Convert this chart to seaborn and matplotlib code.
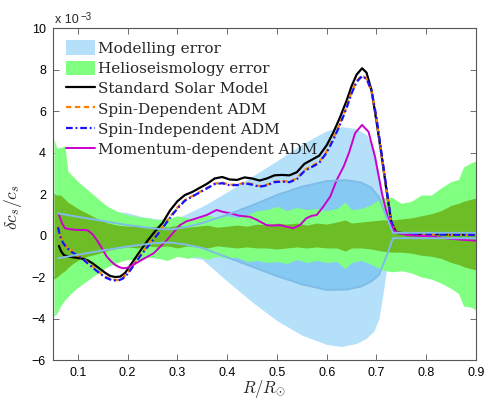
import numpy as np
import pandas as pd
import matplotlib
matplotlib.use("Agg")
import matplotlib.pyplot as plt
import seaborn as sns
from matplotlib.patches import Patch
from matplotlib.lines import Line2D

# Sound-speed profiles, delta c_s / c_s in units of 1e-3
x_ssm = [0.062, 0.066, 0.072, 0.08, 0.09, 0.1, 0.11, 0.12, 0.13, 0.144,
         0.155, 0.165, 0.175, 0.185, 0.195, 0.205, 0.215, 0.225, 0.24, 0.255,
         0.27, 0.285, 0.3, 0.315, 0.33, 0.345, 0.36, 0.375, 0.39, 0.405,
         0.42, 0.435, 0.45, 0.465, 0.48, 0.495, 0.51, 0.525, 0.54, 0.555,
         0.57, 0.585, 0.6, 0.613, 0.626, 0.64, 0.65, 0.66, 0.671, 0.68,
         0.69, 0.7, 0.71, 0.72, 0.73, 0.74, 0.76, 0.8, 0.85, 0.9]
dc_ssm = [-0.5, -0.75, -0.95, -1.0, -1.05, -1.08, -1.12, -1.2, -1.35, -1.6,
          -1.8, -1.95, -2.0, -1.98, -1.8, -1.45, -1.1, -0.75, -0.25, 0.2,
          0.6, 1.2, 1.65, 1.95, 2.1, 2.3, 2.5, 2.75, 2.82, 2.7,
          2.68, 2.8, 2.75, 2.65, 2.75, 2.9, 2.92, 2.9, 3.05, 3.45,
          3.65, 3.85, 4.35, 4.95, 5.65, 6.5, 7.2, 7.75, 8.06, 7.85,
          7.0, 5.5, 3.9, 2.2, 0.6, 0.15, 0.1, 0.08, 0.06, 0.05]

x_adm = [0.06, 0.064, 0.07, 0.078, 0.088, 0.1, 0.112, 0.125, 0.14, 0.155,
         0.168, 0.18, 0.19, 0.2, 0.212, 0.225, 0.24, 0.255, 0.27, 0.285,
         0.3, 0.315, 0.33, 0.345, 0.36, 0.375, 0.39, 0.405, 0.42, 0.435,
         0.45, 0.465, 0.48, 0.495, 0.51, 0.525, 0.54, 0.555, 0.57, 0.585,
         0.6, 0.613, 0.626, 0.64, 0.65, 0.66, 0.671, 0.68, 0.69, 0.7,
         0.71, 0.72, 0.73, 0.74, 0.76, 0.8, 0.85, 0.9]
dc_spin_dep = [0.45, 0.05, -0.3, -0.55, -0.75, -0.95, -1.15, -1.4, -1.7, -1.98,
               -2.12, -2.15, -2.05, -1.8, -1.4, -0.95, -0.5, -0.05, 0.4, 0.9,
               1.35, 1.7, 1.9, 2.1, 2.3, 2.5, 2.55, 2.45, 2.45, 2.55,
               2.48, 2.38, 2.45, 2.6, 2.62, 2.6, 2.75, 3.15, 3.35, 3.55,
               4.05, 4.65, 5.35, 6.2, 6.9, 7.45, 7.72, 7.55, 6.95, 5.6,
               3.9, 2.2, 0.6, 0.12, 0.08, 0.06, 0.04, 0.02]
dc_spin_ind = [0.4, 0.0, -0.35, -0.6, -0.8, -0.98, -1.18, -1.45, -1.75, -2.02,
               -2.15, -2.18, -2.08, -1.85, -1.45, -1.0, -0.55, -0.1, 0.35, 0.85,
               1.3, 1.68, 1.88, 2.08, 2.28, 2.48, 2.52, 2.42, 2.43, 2.52,
               2.45, 2.35, 2.42, 2.57, 2.6, 2.57, 2.72, 3.1, 3.3, 3.5,
               4.0, 4.6, 5.3, 6.15, 6.85, 7.4, 7.68, 7.55, 7.0, 5.7,
               4.0, 2.3, 0.65, 0.12, 0.08, 0.06, 0.04, 0.02]

x_mom = [0.062, 0.068, 0.074, 0.085, 0.098, 0.11, 0.12, 0.13, 0.138, 0.148,
         0.158, 0.167, 0.175, 0.183, 0.191, 0.2, 0.211, 0.23, 0.252, 0.265,
         0.279, 0.292, 0.305, 0.318, 0.332, 0.345, 0.359, 0.372, 0.379, 0.39,
         0.406, 0.425, 0.446, 0.46, 0.479, 0.493, 0.506, 0.52, 0.533, 0.546,
         0.559, 0.57, 0.58, 0.593, 0.607, 0.62, 0.634, 0.645, 0.657, 0.671,
         0.684, 0.697, 0.711, 0.724, 0.737, 0.761, 0.79, 0.808, 0.841, 0.87,
         0.9]
dc_mom = [1.0, 0.6, 0.35, 0.3, 0.27, 0.27, 0.25, 0.05, -0.22, -0.6,
          -1.02, -1.25, -1.42, -1.52, -1.58, -1.55, -1.42, -1.15, -0.86, -0.55,
          -0.22, 0.15, 0.5, 0.68, 0.78, 0.88, 0.99, 1.15, 1.23, 1.15,
          1.07, 0.95, 0.9, 0.75, 0.5, 0.48, 0.5, 0.42, 0.35, 0.5,
          0.83, 0.95, 0.99, 1.39, 1.87, 2.67, 3.32, 4.0, 4.93, 5.33,
          5.0, 3.8, 2.03, 0.75, 0.18, 0.02, -0.02, -0.04, -0.14, -0.2,
          -0.25]

# Modelling error: wide envelope and inner envelope
x_model = [0.055, 0.1, 0.15, 0.18, 0.2, 0.23, 0.26, 0.3, 0.35, 0.4, 0.45, 0.5, 0.55,
           0.6, 0.63, 0.66, 0.68, 0.695, 0.705, 0.712, 0.718, 0.725, 0.735, 0.9]
model_hi = [1.6, 1.4, 1.2, 1.15, 1.1, 0.9, 0.8, 0.85, 1.4, 2.1, 2.85, 3.6, 4.4,
            5.05, 5.25, 5.15, 4.85, 4.2, 3.0, 2.0, 1.3, 0.6, 0.13, 0.13]
model_lo = [-1.6, -1.4, -1.2, -1.1, -1.05, -0.95, -0.95, -0.95, -1.15, -2.2, -3.2, -4.1, -4.8,
            -5.25, -5.35, -5.2, -4.95, -4.6, -4.0, -3.0, -2.0, -1.0, -0.13, -0.13]

x_inner = [0.06, 0.1, 0.15, 0.2, 0.25, 0.27, 0.29, 0.32, 0.35, 0.4, 0.45,
           0.5, 0.55, 0.6, 0.64, 0.67, 0.69, 0.705, 0.72, 0.733, 0.9]
inner_hi = [1.07, 0.9, 0.7, 0.5, 0.35, 0.3, 0.3, 0.42, 0.6, 1.0, 1.45,
            1.95, 2.35, 2.62, 2.67, 2.55, 2.3, 1.85, 0.9, 0.13, 0.13]
inner_lo = [-1.1, -0.92, -0.72, -0.53, -0.38, -0.34, -0.35, -0.45, -0.6, -1.05, -1.5,
            -1.95, -2.35, -2.62, -2.6, -2.45, -2.2, -1.9, -1.0, -0.13, -0.13]

# Helioseismology error: 2-sigma and 1-sigma envelopes
x_helio = [0.052, 0.058, 0.065, 0.074, 0.08, 0.09, 0.1, 0.12, 0.144, 0.16,
           0.18, 0.2, 0.22, 0.24, 0.26, 0.28, 0.3, 0.32, 0.34, 0.36,
           0.38, 0.4, 0.42, 0.44, 0.46, 0.48, 0.5, 0.52, 0.54, 0.56,
           0.58, 0.6, 0.62, 0.637, 0.65, 0.67, 0.69, 0.71, 0.73, 0.75,
           0.77, 0.79, 0.81, 0.83, 0.85, 0.865, 0.875, 0.89, 0.9]
helio2_hi = [4.65, 4.2, 4.25, 4.3, 3.1, 2.85, 2.6, 2.2, 1.7, 1.4,
             1.15, 1.0, 0.9, 0.85, 0.75, 0.8, 0.95, 0.85, 0.8, 1.0,
             0.85, 0.95, 0.85, 1.0, 1.2, 1.25, 1.4, 1.2, 1.35, 1.25,
             1.3, 1.2, 1.3, 1.6, 1.25, 1.3, 1.5, 1.8, 1.85, 1.55,
             1.65, 1.95, 1.95, 2.3, 2.6, 2.7, 3.3, 3.5, 3.6]
helio2_lo = [-3.9, -3.75, -3.4, -3.1, -2.95, -2.7, -2.5, -2.15, -1.75, -1.5,
             -1.3, -1.15, -1.2, -1.05, -1.1, -1.2, -1.0, -1.1, -1.0, -1.15,
             -1.0, -1.1, -1.05, -1.25, -1.2, -1.3, -1.25, -1.35, -1.15, -1.3,
             -1.2, -1.3, -1.25, -1.6, -1.3, -1.2, -1.4, -1.65, -1.75, -1.7,
             -1.8, -2.0, -2.1, -2.3, -2.55, -2.8, -3.4, -3.45, -3.6]
helio1_hi = [2.0, 1.95, 1.95, 1.75, 1.6, 1.45, 1.3, 1.05, 0.75, 0.6,
             0.5, 0.45, 0.5, 0.4, 0.45, 0.4, 0.5, 0.4, 0.45, 0.5,
             0.4, 0.45, 0.5, 0.45, 0.55, 0.5, 0.6, 0.55, 0.6, 0.5,
             0.6, 0.55, 0.65, 0.75, 0.6, 0.65, 0.7, 0.75, 0.75, 0.8,
             0.85, 0.95, 1.05, 1.2, 1.45, 1.55, 1.65, 1.75, 1.8]
helio1_lo = [-2.1, -2.0, -1.85, -1.7, -1.55, -1.35, -1.2, -1.0, -0.85, -0.72,
             -0.62, -0.55, -0.6, -0.5, -0.55, -0.5, -0.6, -0.5, -0.55, -0.6,
             -0.5, -0.55, -0.6, -0.55, -0.6, -0.6, -0.65, -0.6, -0.55, -0.6,
             -0.55, -0.6, -0.6, -0.75, -0.6, -0.6, -0.65, -0.75, -0.8, -0.8,
             -0.85, -0.95, -1.0, -1.1, -1.3, -1.4, -1.5, -1.6, -1.65]

x_ticks = [0.1, 0.2, 0.3, 0.4, 0.5, 0.6, 0.7, 0.8, 0.9]
y_ticks = [-6, -4, -2, 0, 2, 4, 6, 8, 10]

labels = ["Modelling error", "Helioseismology error", "Standard Solar Model",
          "Spin-Dependent ADM", "Spin-Independent ADM", "Momentum-dependent ADM"]

# colours
c_model_out = "#b5e0fa"
c_model_in = "#86caf4"
c_model_line = "#80bce8"
c_helio2 = "#80ff80"
c_helio1 = "#6cbd26"
c_ssm = "black"
c_sd = "#ff8000"
c_si = "#1414ff"
c_mom = "#cc00cc"

sns.set_theme(style="ticks")
plt.rcParams["font.family"] = ["Liberation Sans", "DejaVu Sans"]
plt.rcParams["mathtext.fontset"] = "cm"

fig = plt.figure(figsize=(4.88, 3.99), dpi=100)
ax = fig.add_axes([0.1086, 0.0977, 0.8668, 0.8321])

ax.fill_between(x_model, model_lo, model_hi, color=c_model_out, lw=0, zorder=1)
ax.fill_between(x_inner, inner_lo, inner_hi, color=c_model_in, lw=0, zorder=1.2)
ax.fill_between(x_helio, helio2_lo, helio2_hi, color=c_helio2, lw=0, zorder=1.4)
ax.fill_between(x_helio, helio1_lo, helio1_hi, color=c_helio1, lw=0, zorder=1.6)

curves = pd.concat([
    pd.DataFrame({"r": x_ssm, "dc": dc_ssm, "model": labels[2]}),
    pd.DataFrame({"r": x_adm, "dc": dc_spin_dep, "model": labels[3]}),
    pd.DataFrame({"r": x_adm, "dc": dc_spin_ind, "model": labels[4]}),
    pd.DataFrame({"r": x_mom, "dc": dc_mom, "model": labels[5]}),
])

line_styles = {
    labels[2]: dict(color=c_ssm, lw=1.6, linestyle="-"),
    labels[3]: dict(color=c_sd, lw=1.6, linestyle=(0, (2.4, 1.6))),
    labels[4]: dict(color=c_si, lw=1.6, linestyle=(0, (3.0, 1.3, 0.8, 1.3))),
    labels[5]: dict(color=c_mom, lw=1.4, linestyle="-"),
}
for i, (name, st) in enumerate(line_styles.items()):
    sub = curves[curves["model"] == name]
    sns.lineplot(data=sub, x="r", y="dc", ax=ax, estimator=None, sort=False,
                 legend=False, zorder=3 + i * 0.1, **st)

# edges of the inner modelling envelope
sns.lineplot(x=x_inner, y=inner_hi, ax=ax, estimator=None, sort=False,
             color=c_model_line, lw=1.4, zorder=4)
sns.lineplot(x=x_inner, y=inner_lo, ax=ax, estimator=None, sort=False,
             color=c_model_line, lw=1.4, zorder=4)

ax.set_xlim(0.05, 0.9)
ax.set_ylim(-6, 10)
ax.set_xticks(x_ticks)
ax.set_xticklabels([f"{v:g}" for v in x_ticks])
ax.set_yticks(y_ticks)
ax.set_yticklabels([f"{v:d}".replace("-", "\u2212") for v in y_ticks])
ax.tick_params(direction="in", top=True, right=True, length=4, width=0.6,
               color="#555555", labelsize=9, pad=5, labelcolor="black")
for sp in ax.spines.values():
    sp.set_visible(True)
    sp.set_color("#555555")
    sp.set_linewidth(0.8)
ax.grid(False)

ax.set_xlabel(r"$R/R_{\odot}$", fontsize=12)
ax.set_ylabel(r"$\delta c_s/c_s$", fontsize=12.5)
ax.yaxis.set_label_coords(-0.068, 0.46)
ax.xaxis.set_label_coords(0.5, -0.088)
ax.xaxis.label.set_verticalalignment("center")

t1 = fig.text(55 / 488, 1 - 23 / 399, "x 10", fontsize=9, ha="left", va="baseline")
ax.annotate("\u22123", xy=(1.0, 1.0), xycoords=t1, xytext=(1.0, -2.5),
            textcoords="offset points", fontsize=7, ha="left", va="center",
            annotation_clip=False)

handles = [
    Patch(facecolor=c_model_out, edgecolor="none"),
    Patch(facecolor=c_helio2, edgecolor="none"),
    Line2D([], [], **line_styles[labels[2]]),
    Line2D([], [], **line_styles[labels[3]]),
    Line2D([], [], **line_styles[labels[4]]),
    Line2D([], [], **line_styles[labels[5]]),
]
ax.legend(handles, labels, loc="upper left", bbox_to_anchor=(0.03, 0.963),
          frameon=False, borderpad=0, borderaxespad=0, handlelength=1.95,
          handleheight=1.1, handletextpad=0.15, labelspacing=0.31,
          prop=dict(family="DejaVu Serif", size=11))

fig.savefig("out.png", dpi=100)
